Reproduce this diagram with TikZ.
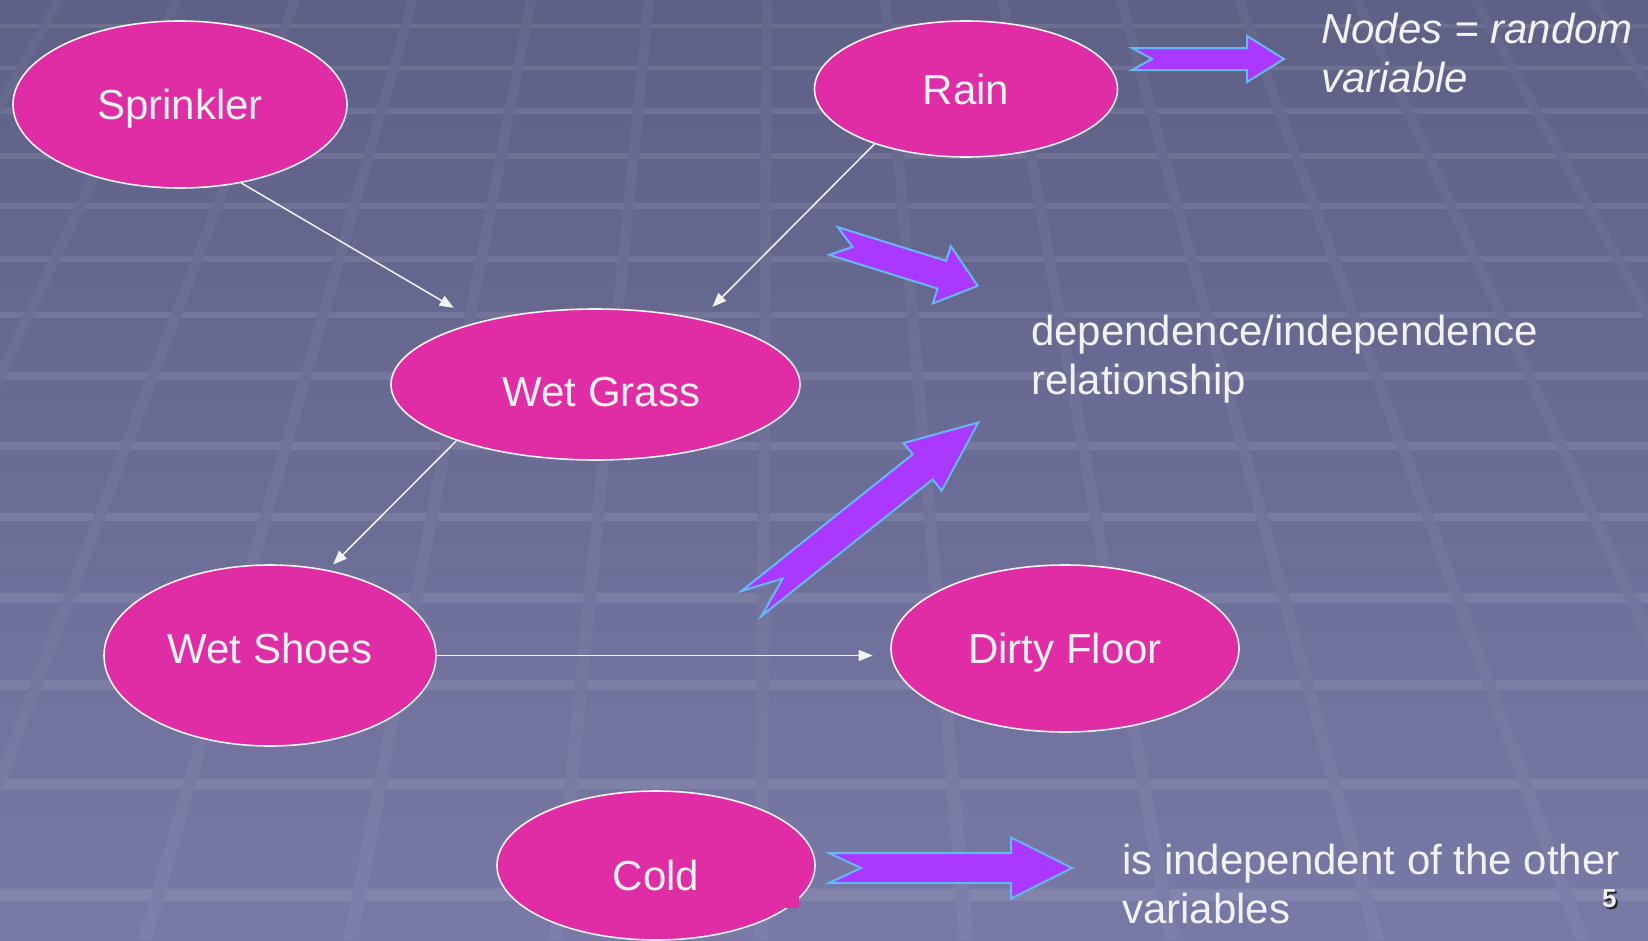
\documentclass[tikz,border=0pt]{standalone}
\usepackage{fontspec}
\setmainfont{Liberation Sans}
\usetikzlibrary{shapes.geometric, arrows.meta}

\definecolor{bgtop}{RGB}{94,96,134}
\definecolor{bgbot}{RGB}{120,121,166}
\definecolor{rvfill}{RGB}{225,45,165}
\definecolor{rvline}{RGB}{242,242,242}
\definecolor{fatfill}{RGB}{170,56,255}
\definecolor{fatline}{RGB}{100,185,245}
\definecolor{txt}{RGB}{242,242,242}

\tikzset{
  rv/.style={ellipse, draw=rvline, fill=rvfill, line width=1.6pt, inner sep=0pt,
    text=txt, font=\fontsize{42}{49}\selectfont, text height=30pt, text depth=0pt},
  link/.style={draw=rvline, line width=1.5pt, -{Triangle[length=14pt,width=11pt]}},
  fat/.style={fill=fatfill, draw=fatline, line width=2pt, line join=miter},
  note/.style={text=txt, font=\fontsize{42}{49}\selectfont, align=left,
    inner sep=0pt, anchor=base west},
  pagenum/.style={font=\fontsize{26}{30}\selectfont\bfseries, inner sep=0pt, anchor=base west},
  stripe/.style={white, opacity=0.09},
}

% tail centre, angle, length, shaft half, head half, head length, notch
\newcommand{\fatarrow}[7]{%
  \draw[fat, shift={#1}, rotate=#2] (0,#4) -- ({#3-#6},#4) -- ({#3-#6},#5) -- (#3,0)
    -- ({#3-#6},-#5) -- ({#3-#6},-#4) -- (0,-#4) -- (#7,0) -- cycle;}

\begin{document}
\begin{tikzpicture}[x=1pt, y=-1pt]
  \useasboundingbox (0,0) rectangle (1648,940);
  \clip (0,0) rectangle (1648,940);
  % floor background
  \shade[top color=bgtop, bottom color=bgbot] (0,0) rectangle (1648,940);
  \foreach \y in {26,68,111,156,206,259,315,376,446,517,598,685,784,895}{
    \pgfmathsetmacro{\hw}{2.2+0.004*\y}
    \fill[stripe] (0,\y-\hw) rectangle (1648,\y+\hw);
  }
  \foreach \k in {-7,...,7}{
    \pgfmathsetmacro{\xa}{767+118*\k}
    \pgfmathsetmacro{\xb}{775+(\xa-775)*1.7402}
    \shade[top color=bgtop!96!white, bottom color=bgbot!96!white]
      (\xa-5,0) -- (\xa+5,0) -- (\xb+7,940) -- (\xb-7,940) -- cycle;
  }
  %
  \node[rv, minimum width=334pt, minimum height=167pt] (sprinkler) at (180,104.5) {Sprinkler};
  \node[rv, minimum width=303pt, minimum height=136pt] (rain) at (966,89) {Rain};
  \node[rv, minimum width=409pt, minimum height=151pt] (wetgrass) at (595.5,384.5) {\hspace*{12pt}\raisebox{-6.5pt}{Wet Grass}};
  \node[rv, minimum width=332pt, minimum height=181pt] (wetshoes) at (270,655.5) {\raisebox{7.5pt}{Wet Shoes}};
  \node[rv, minimum width=348pt, minimum height=167pt] (dirtyfloor) at (1065,648.5) {Dirty Floor};
  \node[rv, minimum width=318pt, minimum height=149pt] (cold) at (656,865.5) {\raisebox{-9.5pt}{Cold}};
  \fill[rvfill] (784,888) rectangle (799,908);
  %
  \draw[link, shorten >=28pt] (sprinkler.-52.4) -- (wetgrass.152.7);
  \draw[link, shorten >=17pt] (rain.-149.1) -- (wetgrass.32.1);
  \draw[link, shorten >=7.6pt] (wetgrass.202.9) -- (wetshoes.56.4);
  \draw[link, shorten >=17.5pt] (wetshoes.east) -- (wetshoes.east -| dirtyfloor.west);
  %
  \fatarrow{(1132,59)}{0}{152}{11}{23}{37}{20}
  \fatarrow{(833.5,241)}{-17.3}{151}{14.5}{30}{37.5}{20}
  \fatarrow{(751.5,603.5)}{38.6}{290}{16}{30.5}{71}{40}
  \fatarrow{(829,868)}{0}{243}{15}{30.5}{61}{32}
  %
  \node[note, font=\fontsize{42}{49}\selectfont\itshape] (nodesnote) at (1321,92) {Nodes = random\\variable};
  \node[note] (depnote) at (1031,394) {dependence/independence\\relationship};
  \node[note] (coldnote) at (1122,923) {is independent of the other\\variables};
  \node[pagenum, text=black!85] (pgshadow) at (1604,909) {5};
  \node[pagenum, text=txt] (pg) at (1602,907) {5};
\end{tikzpicture}
\end{document}
